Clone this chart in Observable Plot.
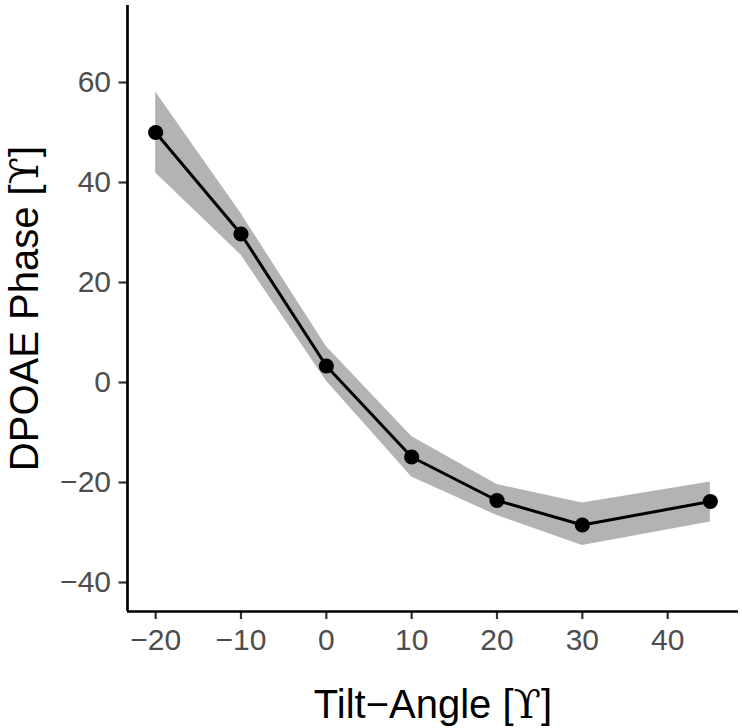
<!DOCTYPE html>
<html><head><meta charset="utf-8">
<script src="https://cdn.jsdelivr.net/npm/d3@7"></script>
<script src="https://cdn.jsdelivr.net/npm/@observablehq/plot@0.6"></script>
<style>
body{margin:0;background:#fff}
#chart svg{display:block}
</style></head><body><div id="chart"></div>
<script>
const angles = [-20, -10, 0, 10, 20, 30, 45];
const phase  = [50.0, 29.7, 3.3, -14.9, -23.6, -28.5, -23.8];
const lower  = [41.9, 25.5, 0.3, -18.9, -26.6, -32.6, -27.9];
const upper  = [58.1, 33.8, 7.2, -10.8, -20.4, -24.1, -19.9];
const xTicks = [-20, -10, 0, 10, 20, 30, 40];
const yTicks = [-40, -20, 0, 20, 40, 60];
const xDomain = [-23.3, 48.3];
const yDomain = [-45.8, 75.4];
const xTitle = ["Tilt\u2212Angle [", "\u03D2", "]"];
const yTitle = ["DPOAE Phase [", "\u03D2", "]"];

const data = angles.map((a, i) => ({angle: a, phase: phase[i], lo: lower[i], hi: upper[i]}));

const chart = Plot.plot({
  width: 742, height: 728,
  marginLeft: 127, marginRight: 4, marginTop: 5, marginBottom: 117,
  style: {fontFamily: "'Liberation Sans', Arial, sans-serif", fontSize: "30px", background: "#fff", overflow: "visible"},
  x: {domain: xDomain},
  y: {domain: yDomain},
  marks: [
    Plot.areaY(data, {x: "angle", y1: "lo", y2: "hi", fill: "#b3b3b3"}),
    Plot.lineY(data, {x: "angle", y: "phase", stroke: "black", strokeWidth: 3}),
    Plot.dot(data, {x: "angle", y: "phase", r: 7.6, fill: "black"}),
    Plot.axisX({ticks: xTicks, tickSize: 8, tickPadding: 9, stroke: "#333", strokeWidth: 2.2, fontSize: 30,
      label: xTitle.join(""), labelAnchor: "center", labelOffset: 106}),
    Plot.axisY({ticks: yTicks, tickSize: 8.5, tickPadding: 8, stroke: "#333", strokeWidth: 2.2, fontSize: 30,
      label: yTitle.join(""), labelAnchor: "center", labelOffset: 118}),
    Plot.ruleX([xDomain[0]], {stroke: "black", strokeWidth: 2.7}),
    Plot.ruleY([yDomain[0]], {stroke: "black", strokeWidth: 2.7})
  ]
});
document.getElementById("chart").appendChild(chart);

const svg = d3.select(chart);
svg.selectAll('g[aria-label="x-axis tick label"] text, g[aria-label="y-axis tick label"] text').attr("fill", "#4d4d4d");
function styleTitle(sel, parts) {
  sel.selectAll("text").each(function () {
    const t = d3.select(this);
    t.text(null).attr("fill", "black").style("font-size", "40px");
    t.append("tspan").text(parts[0]);
    t.append("tspan").style("font-family", "'DejaVu Serif', 'Liberation Serif', serif").text(parts[1]);
    t.append("tspan").text(parts[2]);
  });
}
styleTitle(svg.select('g[aria-label="x-axis label"]'), xTitle);
styleTitle(svg.select('g[aria-label="y-axis label"]'), yTitle);
</script>
</body></html>
